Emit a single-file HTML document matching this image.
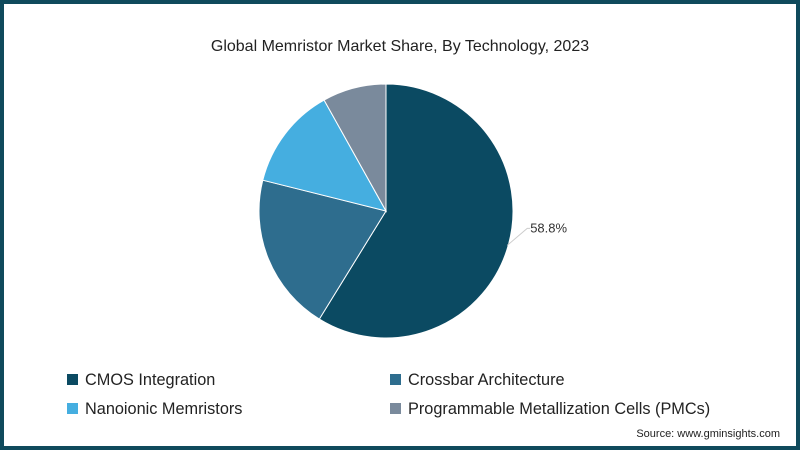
<!DOCTYPE html>
<html><head><meta charset="utf-8"><style>
html,body{margin:0;padding:0;background:#fff}
#wrap{position:relative;width:800px;height:450px;box-sizing:border-box;border:4px solid #0f4a5c;background:#fff;font-family:"Liberation Sans",sans-serif;overflow:hidden}
.t{position:absolute;white-space:nowrap}
.leg{position:absolute;font-size:16.3px;color:#222;white-space:nowrap}
.sw{display:inline-block;width:11px;height:11px;margin-right:7px;vertical-align:0px}
</style></head><body>
<div id="wrap">
<div class="t" style="left:0;width:792px;text-align:center;top:34px;font-size:16px;color:#222">Global Memristor Market Share, By Technology, 2023</div>
<svg id="pie" width="792" height="442" style="position:absolute;left:0;top:0"></svg>
<div class="leg" style="left:63px;top:367px"><span class="sw" style="background:#0b4a62"></span>CMOS Integration</div>
<div class="leg" style="left:386px;top:367px"><span class="sw" style="background:#2e6d8e"></span>Crossbar Architecture</div>
<div class="leg" style="left:63px;top:396px"><span class="sw" style="background:#45aee0"></span>Nanoionic Memristors</div>
<div class="leg" style="left:386px;top:396px"><span class="sw" style="background:#7a8a9c"></span>Programmable Metallization Cells (PMCs)</div>
<div class="t" style="right:16px;top:424px;font-size:11px;color:#222">Source: www.gminsights.com</div>
</div>
<script>
const categories=["CMOS Integration","Crossbar Architecture","Nanoionic Memristors","Programmable Metallization Cells (PMCs)"];
const shares=[58.8,20.1,13.0,8.1];
const labels=["58.8%","","",""];
const colors=["#0b4a62","#2e6d8e","#45aee0","#7a8a9c"];
const svg=document.getElementById('pie');
const NS="http://www.w3.org/2000/svg";
const cx=382,cy=207,r=127;
const total=shares.reduce((a,b)=>a+b,0);
function pt(a,rr){return [cx+rr*Math.sin(a),cy-rr*Math.cos(a)];}
let a0=0;
shares.forEach((v,i)=>{
  const a1=a0+v/total*2*Math.PI;
  const p0=pt(a0,r),p1=pt(a1,r);
  const large=(a1-a0)>Math.PI?1:0;
  const path=document.createElementNS(NS,'path');
  path.setAttribute('d',`M${cx},${cy}L${p0[0]},${p0[1]}A${r},${r} 0 ${large} 1 ${p1[0]},${p1[1]}Z`);
  path.setAttribute('fill',colors[i]);
  path.setAttribute('stroke','#fff');
  path.setAttribute('stroke-width','1');
  
  
  svg.appendChild(path);
  if(labels[i]){
    const m=(a0+a1)/2;
    const q0=pt(m,r-1);
    const q1=[q0[0]+20,q0[1]-17];
    const ln=document.createElementNS(NS,'polyline');
    ln.setAttribute('points',`${q0[0]},${q0[1]} ${q1[0]},${q1[1]} ${q1[0]+3},${q1[1]}`);
    ln.setAttribute('fill','none');ln.setAttribute('stroke','#ccc');
    
    
    svg.appendChild(ln);
    const tx=document.createElementNS(NS,'text');
    tx.setAttribute('x',q1[0]+3);tx.setAttribute('y',q1[1]+4);
    tx.setAttribute('font-size','13');tx.setAttribute('fill','#333');
    tx.setAttribute('font-family','Liberation Sans, sans-serif');
    tx.textContent=labels[i];
    
    
    svg.appendChild(tx);
  }
  a0=a1;
});
</script>
</body></html>
